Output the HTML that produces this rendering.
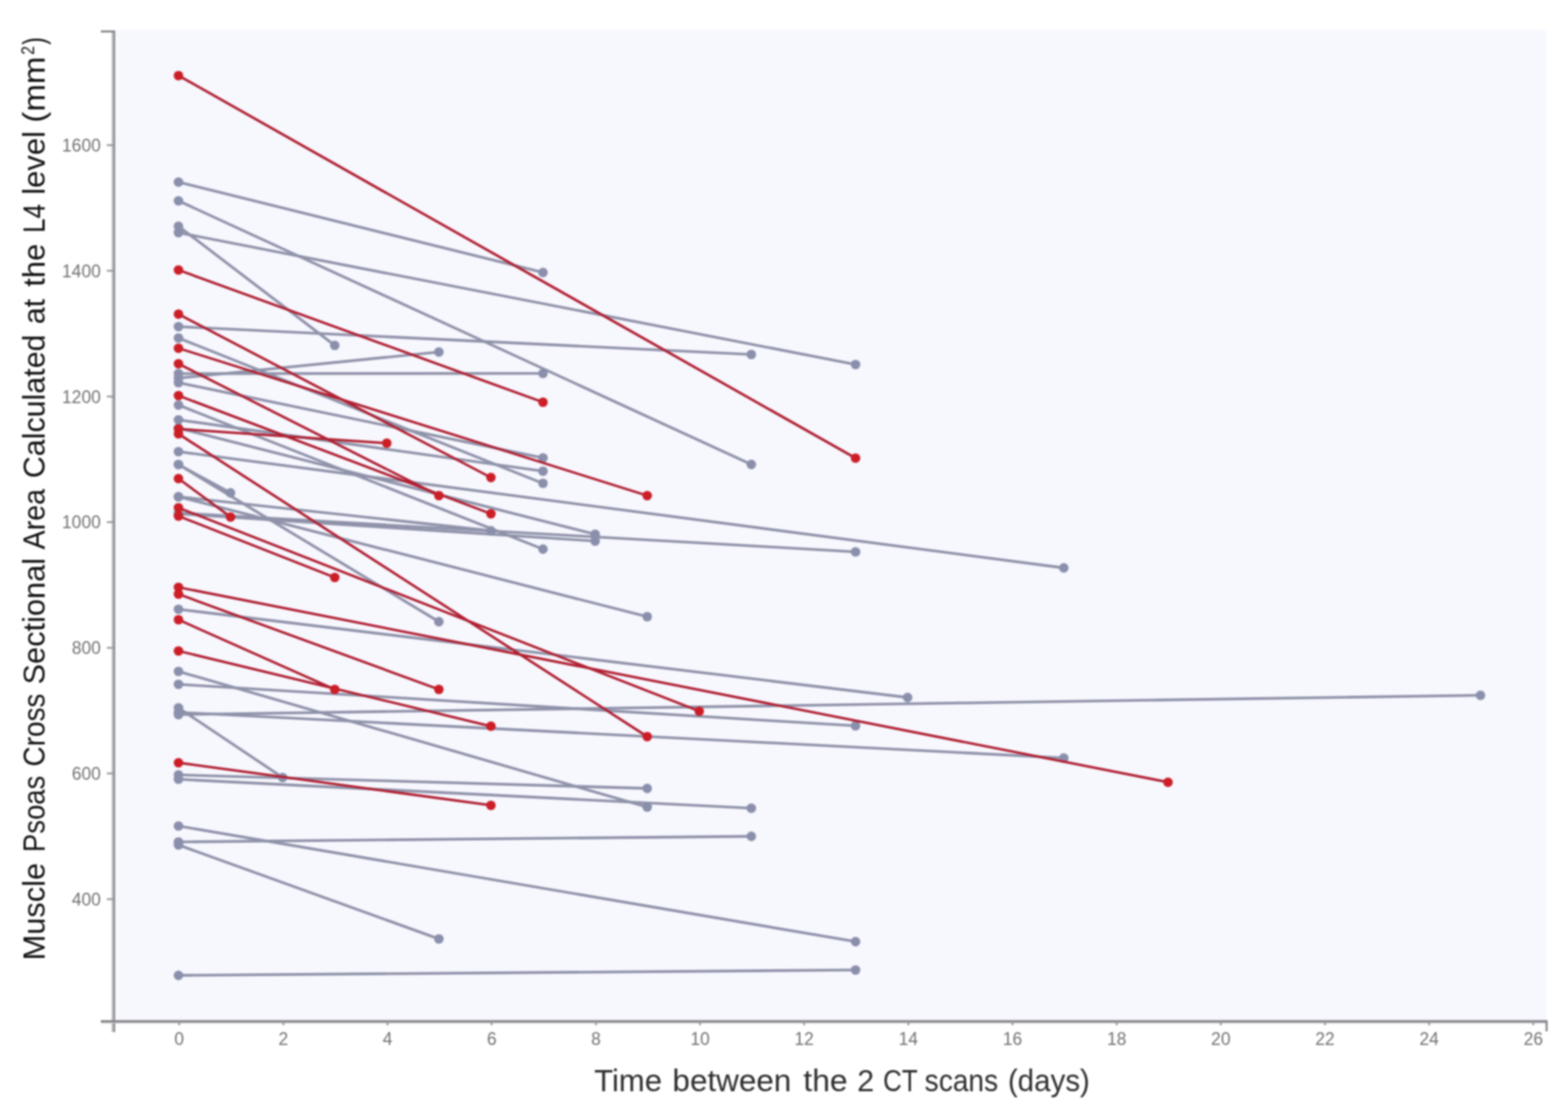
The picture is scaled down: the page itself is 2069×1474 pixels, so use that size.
<!DOCTYPE html>
<html>
<head>
<meta charset="utf-8">
<style>
html, body { margin: 0; padding: 0; background: #ffffff; }
body { width: 2069px; height: 1474px; overflow: hidden; }
svg { display: block; filter: blur(0.8px); }
.tl { font-family: "Liberation Sans", Arial, sans-serif; font-size: 23px; fill: #727272; }
.tt { font-family: "Liberation Sans", Arial, sans-serif; fill: #2e2e2e; }
.yt { fill: #111111; }
</style>
</head>
<body>
<svg width="2069" height="1474" viewBox="0 0 2069 1474">
<rect x="0" y="0" width="2069" height="1474" fill="#ffffff"/>
<rect x="151" y="40" width="1889.5" height="1307.5" fill="#f7f7fe"/>
<line x1="235.5" y1="240.2" x2="716.5" y2="359.6" stroke="#8f92a9" stroke-width="3.6"/>
<line x1="235.5" y1="265" x2="991.4" y2="612.9" stroke="#8f92a9" stroke-width="3.6"/>
<line x1="235.5" y1="298.5" x2="441.7" y2="455.8" stroke="#8f92a9" stroke-width="3.6"/>
<line x1="235.5" y1="307" x2="1128.9" y2="481" stroke="#8f92a9" stroke-width="3.6"/>
<line x1="235.5" y1="431" x2="991.4" y2="467.8" stroke="#8f92a9" stroke-width="3.6"/>
<line x1="235.5" y1="446" x2="716.5" y2="637.8" stroke="#8f92a9" stroke-width="3.6"/>
<line x1="235.5" y1="493" x2="716.5" y2="492.7" stroke="#8f92a9" stroke-width="3.6"/>
<line x1="235.5" y1="499" x2="579.1" y2="464.5" stroke="#8f92a9" stroke-width="3.6"/>
<line x1="235.5" y1="505" x2="716.5" y2="604.2" stroke="#8f92a9" stroke-width="3.6"/>
<line x1="235.5" y1="534.5" x2="716.5" y2="724.6" stroke="#8f92a9" stroke-width="3.6"/>
<line x1="235.5" y1="554" x2="716.5" y2="621.8" stroke="#8f92a9" stroke-width="3.6"/>
<line x1="235.5" y1="565" x2="785.3" y2="705" stroke="#8f92a9" stroke-width="3.6"/>
<line x1="235.5" y1="596" x2="1403.7" y2="749.4" stroke="#8f92a9" stroke-width="3.6"/>
<line x1="235.5" y1="613" x2="304.2" y2="650.4" stroke="#8f92a9" stroke-width="3.6"/>
<line x1="235.5" y1="613" x2="579.1" y2="820.4" stroke="#8f92a9" stroke-width="3.6"/>
<line x1="235.5" y1="655.5" x2="854" y2="813.8" stroke="#8f92a9" stroke-width="3.6"/>
<line x1="235.5" y1="677" x2="1128.9" y2="728.2" stroke="#8f92a9" stroke-width="3.6"/>
<line x1="235.5" y1="655.5" x2="647.8" y2="700.4" stroke="#8f92a9" stroke-width="3.6"/>
<line x1="235.5" y1="678" x2="785.3" y2="714" stroke="#8f92a9" stroke-width="3.6"/>
<line x1="235.5" y1="804" x2="1197.6" y2="920.4" stroke="#8f92a9" stroke-width="3.6"/>
<line x1="235.5" y1="886" x2="854" y2="1065" stroke="#8f92a9" stroke-width="3.6"/>
<line x1="235.5" y1="903" x2="1128.9" y2="957.8" stroke="#8f92a9" stroke-width="3.6"/>
<line x1="235.5" y1="943" x2="1953.5" y2="917.5" stroke="#8f92a9" stroke-width="3.6"/>
<line x1="235.5" y1="940" x2="1403.7" y2="1000.2" stroke="#8f92a9" stroke-width="3.6"/>
<line x1="235.5" y1="934" x2="372.9" y2="1026" stroke="#8f92a9" stroke-width="3.6"/>
<line x1="235.5" y1="1022.5" x2="854" y2="1040.4" stroke="#8f92a9" stroke-width="3.6"/>
<line x1="235.5" y1="1028.3" x2="991.4" y2="1066.5" stroke="#8f92a9" stroke-width="3.6"/>
<line x1="235.5" y1="1090" x2="1128.9" y2="1242.6" stroke="#8f92a9" stroke-width="3.6"/>
<line x1="235.5" y1="1111" x2="991.4" y2="1103.6" stroke="#8f92a9" stroke-width="3.6"/>
<line x1="235.5" y1="1115" x2="579.1" y2="1239" stroke="#8f92a9" stroke-width="3.6"/>
<line x1="235.5" y1="1287.1" x2="1128.9" y2="1280" stroke="#8f92a9" stroke-width="3.6"/>
<circle cx="235.5" cy="240.2" r="6.3" fill="#8a8fab"/>
<circle cx="716.5" cy="359.6" r="6.3" fill="#8a8fab"/>
<circle cx="235.5" cy="265" r="6.3" fill="#8a8fab"/>
<circle cx="991.4" cy="612.9" r="6.3" fill="#8a8fab"/>
<circle cx="235.5" cy="298.5" r="6.3" fill="#8a8fab"/>
<circle cx="441.7" cy="455.8" r="6.3" fill="#8a8fab"/>
<circle cx="235.5" cy="307" r="6.3" fill="#8a8fab"/>
<circle cx="1128.9" cy="481" r="6.3" fill="#8a8fab"/>
<circle cx="235.5" cy="431" r="6.3" fill="#8a8fab"/>
<circle cx="991.4" cy="467.8" r="6.3" fill="#8a8fab"/>
<circle cx="235.5" cy="446" r="6.3" fill="#8a8fab"/>
<circle cx="716.5" cy="637.8" r="6.3" fill="#8a8fab"/>
<circle cx="235.5" cy="493" r="6.3" fill="#8a8fab"/>
<circle cx="716.5" cy="492.7" r="6.3" fill="#8a8fab"/>
<circle cx="235.5" cy="499" r="6.3" fill="#8a8fab"/>
<circle cx="579.1" cy="464.5" r="6.3" fill="#8a8fab"/>
<circle cx="235.5" cy="505" r="6.3" fill="#8a8fab"/>
<circle cx="716.5" cy="604.2" r="6.3" fill="#8a8fab"/>
<circle cx="235.5" cy="534.5" r="6.3" fill="#8a8fab"/>
<circle cx="716.5" cy="724.6" r="6.3" fill="#8a8fab"/>
<circle cx="235.5" cy="554" r="6.3" fill="#8a8fab"/>
<circle cx="716.5" cy="621.8" r="6.3" fill="#8a8fab"/>
<circle cx="235.5" cy="565" r="6.3" fill="#8a8fab"/>
<circle cx="785.3" cy="705" r="6.3" fill="#8a8fab"/>
<circle cx="235.5" cy="596" r="6.3" fill="#8a8fab"/>
<circle cx="1403.7" cy="749.4" r="6.3" fill="#8a8fab"/>
<circle cx="235.5" cy="613" r="6.3" fill="#8a8fab"/>
<circle cx="304.2" cy="650.4" r="6.3" fill="#8a8fab"/>
<circle cx="235.5" cy="613" r="6.3" fill="#8a8fab"/>
<circle cx="579.1" cy="820.4" r="6.3" fill="#8a8fab"/>
<circle cx="235.5" cy="655.5" r="6.3" fill="#8a8fab"/>
<circle cx="854" cy="813.8" r="6.3" fill="#8a8fab"/>
<circle cx="235.5" cy="677" r="6.3" fill="#8a8fab"/>
<circle cx="1128.9" cy="728.2" r="6.3" fill="#8a8fab"/>
<circle cx="235.5" cy="655.5" r="6.3" fill="#8a8fab"/>
<circle cx="647.8" cy="700.4" r="6.3" fill="#8a8fab"/>
<circle cx="235.5" cy="678" r="6.3" fill="#8a8fab"/>
<circle cx="785.3" cy="714" r="6.3" fill="#8a8fab"/>
<circle cx="235.5" cy="804" r="6.3" fill="#8a8fab"/>
<circle cx="1197.6" cy="920.4" r="6.3" fill="#8a8fab"/>
<circle cx="235.5" cy="886" r="6.3" fill="#8a8fab"/>
<circle cx="854" cy="1065" r="6.3" fill="#8a8fab"/>
<circle cx="235.5" cy="903" r="6.3" fill="#8a8fab"/>
<circle cx="1128.9" cy="957.8" r="6.3" fill="#8a8fab"/>
<circle cx="235.5" cy="943" r="6.3" fill="#8a8fab"/>
<circle cx="1953.5" cy="917.5" r="6.3" fill="#8a8fab"/>
<circle cx="235.5" cy="940" r="6.3" fill="#8a8fab"/>
<circle cx="1403.7" cy="1000.2" r="6.3" fill="#8a8fab"/>
<circle cx="235.5" cy="934" r="6.3" fill="#8a8fab"/>
<circle cx="372.9" cy="1026" r="6.3" fill="#8a8fab"/>
<circle cx="235.5" cy="1022.5" r="6.3" fill="#8a8fab"/>
<circle cx="854" cy="1040.4" r="6.3" fill="#8a8fab"/>
<circle cx="235.5" cy="1028.3" r="6.3" fill="#8a8fab"/>
<circle cx="991.4" cy="1066.5" r="6.3" fill="#8a8fab"/>
<circle cx="235.5" cy="1090" r="6.3" fill="#8a8fab"/>
<circle cx="1128.9" cy="1242.6" r="6.3" fill="#8a8fab"/>
<circle cx="235.5" cy="1111" r="6.3" fill="#8a8fab"/>
<circle cx="991.4" cy="1103.6" r="6.3" fill="#8a8fab"/>
<circle cx="235.5" cy="1115" r="6.3" fill="#8a8fab"/>
<circle cx="579.1" cy="1239" r="6.3" fill="#8a8fab"/>
<circle cx="235.5" cy="1287.1" r="6.3" fill="#8a8fab"/>
<circle cx="1128.9" cy="1280" r="6.3" fill="#8a8fab"/>
<line x1="235.5" y1="99.7" x2="1128.9" y2="604.5" stroke="#b01f31" stroke-width="3.3"/>
<line x1="235.5" y1="356.3" x2="716.5" y2="530.8" stroke="#b01f31" stroke-width="3.3"/>
<line x1="235.5" y1="414.5" x2="647.8" y2="630.1" stroke="#b01f31" stroke-width="3.3"/>
<line x1="235.5" y1="459.5" x2="854" y2="654" stroke="#b01f31" stroke-width="3.3"/>
<line x1="235.5" y1="480" x2="579.1" y2="654" stroke="#b01f31" stroke-width="3.3"/>
<line x1="235.5" y1="522" x2="647.8" y2="678" stroke="#b01f31" stroke-width="3.3"/>
<line x1="235.5" y1="566" x2="510.4" y2="584.8" stroke="#b01f31" stroke-width="3.3"/>
<line x1="235.5" y1="572.5" x2="854" y2="972" stroke="#b01f31" stroke-width="3.3"/>
<line x1="235.5" y1="631.5" x2="304.2" y2="682.2" stroke="#b01f31" stroke-width="3.3"/>
<line x1="235.5" y1="670" x2="922.7" y2="938.5" stroke="#b01f31" stroke-width="3.3"/>
<line x1="235.5" y1="681" x2="441.7" y2="762" stroke="#b01f31" stroke-width="3.3"/>
<line x1="235.5" y1="775" x2="1541.2" y2="1032.2" stroke="#b01f31" stroke-width="3.3"/>
<line x1="235.5" y1="784" x2="579.1" y2="909.8" stroke="#b01f31" stroke-width="3.3"/>
<line x1="235.5" y1="817.8" x2="441.7" y2="909.8" stroke="#b01f31" stroke-width="3.3"/>
<line x1="235.5" y1="859" x2="647.8" y2="958.3" stroke="#b01f31" stroke-width="3.3"/>
<line x1="235.5" y1="1006.5" x2="647.8" y2="1062.7" stroke="#b01f31" stroke-width="3.3"/>
<circle cx="235.5" cy="99.7" r="6.3" fill="#cc1e27"/>
<circle cx="1128.9" cy="604.5" r="6.3" fill="#cc1e27"/>
<circle cx="235.5" cy="356.3" r="6.3" fill="#cc1e27"/>
<circle cx="716.5" cy="530.8" r="6.3" fill="#cc1e27"/>
<circle cx="235.5" cy="414.5" r="6.3" fill="#cc1e27"/>
<circle cx="647.8" cy="630.1" r="6.3" fill="#cc1e27"/>
<circle cx="235.5" cy="459.5" r="6.3" fill="#cc1e27"/>
<circle cx="854" cy="654" r="6.3" fill="#cc1e27"/>
<circle cx="235.5" cy="480" r="6.3" fill="#cc1e27"/>
<circle cx="579.1" cy="654" r="6.3" fill="#cc1e27"/>
<circle cx="235.5" cy="522" r="6.3" fill="#cc1e27"/>
<circle cx="647.8" cy="678" r="6.3" fill="#cc1e27"/>
<circle cx="235.5" cy="566" r="6.3" fill="#cc1e27"/>
<circle cx="510.4" cy="584.8" r="6.3" fill="#cc1e27"/>
<circle cx="235.5" cy="572.5" r="6.3" fill="#cc1e27"/>
<circle cx="854" cy="972" r="6.3" fill="#cc1e27"/>
<circle cx="235.5" cy="631.5" r="6.3" fill="#cc1e27"/>
<circle cx="304.2" cy="682.2" r="6.3" fill="#cc1e27"/>
<circle cx="235.5" cy="670" r="6.3" fill="#cc1e27"/>
<circle cx="922.7" cy="938.5" r="6.3" fill="#cc1e27"/>
<circle cx="235.5" cy="681" r="6.3" fill="#cc1e27"/>
<circle cx="441.7" cy="762" r="6.3" fill="#cc1e27"/>
<circle cx="235.5" cy="775" r="6.3" fill="#cc1e27"/>
<circle cx="1541.2" cy="1032.2" r="6.3" fill="#cc1e27"/>
<circle cx="235.5" cy="784" r="6.3" fill="#cc1e27"/>
<circle cx="579.1" cy="909.8" r="6.3" fill="#cc1e27"/>
<circle cx="235.5" cy="817.8" r="6.3" fill="#cc1e27"/>
<circle cx="441.7" cy="909.8" r="6.3" fill="#cc1e27"/>
<circle cx="235.5" cy="859" r="6.3" fill="#cc1e27"/>
<circle cx="647.8" cy="958.3" r="6.3" fill="#cc1e27"/>
<circle cx="235.5" cy="1006.5" r="6.3" fill="#cc1e27"/>
<circle cx="647.8" cy="1062.7" r="6.3" fill="#cc1e27"/>
<line x1="148.3" y1="40.5" x2="148.3" y2="1362" stroke="#c2c2c6" stroke-width="2.2"/>
<line x1="150.7" y1="40.5" x2="150.7" y2="1362" stroke="#828287" stroke-width="2.4"/>
<line x1="133" y1="41.5" x2="151.5" y2="41.5" stroke="#828287" stroke-width="2.6"/>
<line x1="133" y1="1349.6" x2="2042" y2="1349.6" stroke="#c2c2c6" stroke-width="2"/>
<line x1="133" y1="1347.6" x2="2042" y2="1347.6" stroke="#828287" stroke-width="2.6"/>
<line x1="2040.8" y1="1347" x2="2040.8" y2="1361" stroke="#828287" stroke-width="2.6"/>
<line x1="141" y1="191.5" x2="150" y2="191.5" stroke="#9a9a9e" stroke-width="2.4"/>
<text x="133" y="199.8" text-anchor="end" class="tl">1600</text>
<line x1="141" y1="357.3" x2="150" y2="357.3" stroke="#9a9a9e" stroke-width="2.4"/>
<text x="133" y="365.6" text-anchor="end" class="tl">1400</text>
<line x1="141" y1="523.2" x2="150" y2="523.2" stroke="#9a9a9e" stroke-width="2.4"/>
<text x="133" y="531.5" text-anchor="end" class="tl">1200</text>
<line x1="141" y1="689" x2="150" y2="689" stroke="#9a9a9e" stroke-width="2.4"/>
<text x="133" y="697.3" text-anchor="end" class="tl">1000</text>
<line x1="141" y1="854.9" x2="150" y2="854.9" stroke="#9a9a9e" stroke-width="2.4"/>
<text x="133" y="863.2" text-anchor="end" class="tl">800</text>
<line x1="141" y1="1020.7" x2="150" y2="1020.7" stroke="#9a9a9e" stroke-width="2.4"/>
<text x="133" y="1029" text-anchor="end" class="tl">600</text>
<line x1="141" y1="1186.5" x2="150" y2="1186.5" stroke="#9a9a9e" stroke-width="2.4"/>
<text x="133" y="1194.8" text-anchor="end" class="tl">400</text>
<line x1="236.5" y1="1348" x2="236.5" y2="1353" stroke="#9a9a9e" stroke-width="2.4"/>
<text x="236.5" y="1378.5" text-anchor="middle" class="tl">0</text>
<line x1="373.9" y1="1348" x2="373.9" y2="1353" stroke="#9a9a9e" stroke-width="2.4"/>
<text x="373.9" y="1378.5" text-anchor="middle" class="tl">2</text>
<line x1="511.4" y1="1348" x2="511.4" y2="1353" stroke="#9a9a9e" stroke-width="2.4"/>
<text x="511.4" y="1378.5" text-anchor="middle" class="tl">4</text>
<line x1="648.8" y1="1348" x2="648.8" y2="1353" stroke="#9a9a9e" stroke-width="2.4"/>
<text x="648.8" y="1378.5" text-anchor="middle" class="tl">6</text>
<line x1="786.3" y1="1348" x2="786.3" y2="1353" stroke="#9a9a9e" stroke-width="2.4"/>
<text x="786.3" y="1378.5" text-anchor="middle" class="tl">8</text>
<line x1="923.7" y1="1348" x2="923.7" y2="1353" stroke="#9a9a9e" stroke-width="2.4"/>
<text x="923.7" y="1378.5" text-anchor="middle" class="tl">10</text>
<line x1="1061.1" y1="1348" x2="1061.1" y2="1353" stroke="#9a9a9e" stroke-width="2.4"/>
<text x="1061.1" y="1378.5" text-anchor="middle" class="tl">12</text>
<line x1="1198.6" y1="1348" x2="1198.6" y2="1353" stroke="#9a9a9e" stroke-width="2.4"/>
<text x="1198.6" y="1378.5" text-anchor="middle" class="tl">14</text>
<line x1="1336" y1="1348" x2="1336" y2="1353" stroke="#9a9a9e" stroke-width="2.4"/>
<text x="1336" y="1378.5" text-anchor="middle" class="tl">16</text>
<line x1="1473.5" y1="1348" x2="1473.5" y2="1353" stroke="#9a9a9e" stroke-width="2.4"/>
<text x="1473.5" y="1378.5" text-anchor="middle" class="tl">18</text>
<line x1="1610.9" y1="1348" x2="1610.9" y2="1353" stroke="#9a9a9e" stroke-width="2.4"/>
<text x="1610.9" y="1378.5" text-anchor="middle" class="tl">20</text>
<line x1="1748.3" y1="1348" x2="1748.3" y2="1353" stroke="#9a9a9e" stroke-width="2.4"/>
<text x="1748.3" y="1378.5" text-anchor="middle" class="tl">22</text>
<line x1="1885.8" y1="1348" x2="1885.8" y2="1353" stroke="#9a9a9e" stroke-width="2.4"/>
<text x="1885.8" y="1378.5" text-anchor="middle" class="tl">24</text>
<line x1="2023.2" y1="1348" x2="2023.2" y2="1353" stroke="#9a9a9e" stroke-width="2.4"/>
<text x="2023.2" y="1378.5" text-anchor="middle" class="tl">26</text>
<text y="1439.6" class="tt" font-size="40"><tspan x="783.9" textLength="89.6" lengthAdjust="spacingAndGlyphs">Time</tspan> <tspan x="887.3" textLength="156.9" lengthAdjust="spacingAndGlyphs">between</tspan> <tspan x="1060.0" textLength="58.5" lengthAdjust="spacingAndGlyphs">the</tspan> <tspan x="1131.1" textLength="22.5" lengthAdjust="spacingAndGlyphs">2</tspan> <tspan x="1165.3" textLength="45.0" lengthAdjust="spacingAndGlyphs">CT</tspan> <tspan x="1220.1" textLength="97.0" lengthAdjust="spacingAndGlyphs">scans</tspan> <tspan x="1329.9" textLength="108.2" lengthAdjust="spacingAndGlyphs">(days)</tspan></text>
<text transform="translate(59.3 0) rotate(-90)" y="0" class="tt yt" font-size="40.5"><tspan x="-1267.3" textLength="128.6" lengthAdjust="spacingAndGlyphs">Muscle</tspan> <tspan x="-1124.5" textLength="101.0" lengthAdjust="spacingAndGlyphs">Psoas</tspan> <tspan x="-1011.4" textLength="96.1" lengthAdjust="spacingAndGlyphs">Cross</tspan> <tspan x="-903.2" textLength="166.9" lengthAdjust="spacingAndGlyphs">Sectional</tspan> <tspan x="-725.0" textLength="79.8" lengthAdjust="spacingAndGlyphs">Area</tspan> <tspan x="-631.0" textLength="189.5" lengthAdjust="spacingAndGlyphs">Calculated</tspan> <tspan x="-427.7" textLength="33.4" lengthAdjust="spacingAndGlyphs">at</tspan> <tspan x="-378.2" textLength="56.4" lengthAdjust="spacingAndGlyphs">the</tspan> <tspan x="-307.3" textLength="38.0" lengthAdjust="spacingAndGlyphs">L4</tspan> <tspan x="-257.1" textLength="84.2" lengthAdjust="spacingAndGlyphs">level</tspan> <tspan x="-161.9" y="0" textLength="87.4" lengthAdjust="spacingAndGlyphs">(mm</tspan><tspan x="-72.2" y="-14.4" font-size="24" textLength="11.5" lengthAdjust="spacingAndGlyphs">2</tspan><tspan x="-58.9" y="0" textLength="9.8" lengthAdjust="spacingAndGlyphs">)</tspan></text>
</svg>
</body>
</html>
